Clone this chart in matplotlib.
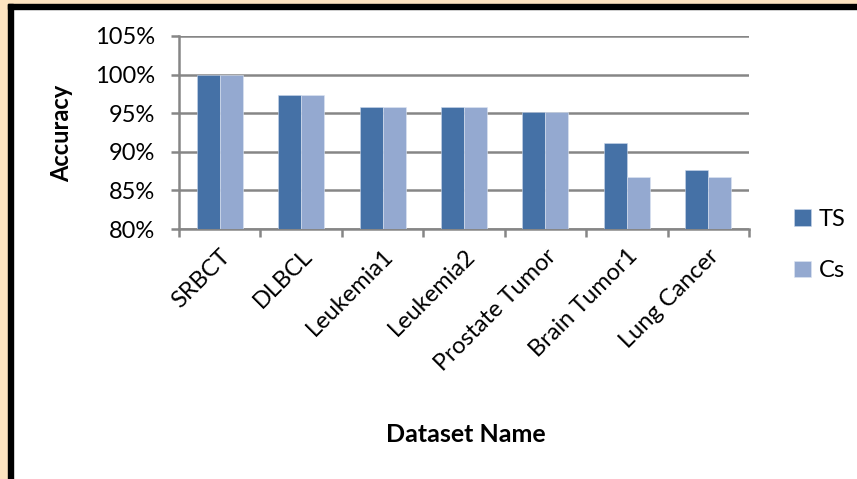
import numpy as np
import matplotlib.pyplot as plt
from matplotlib.patches import Rectangle

# Classification accuracy per dataset
datasets = ['SRBCT', 'DLBCL', 'Leukemia1', 'Leukemia2', 'Prostate Tumor', 'Brain Tumor1', 'Lung Cancer']
ts_acc = [100.0, 97.4, 95.8, 95.8, 95.1, 91.1, 87.7]
cs_acc = [100.0, 97.4, 95.8, 95.8, 95.1, 86.7, 86.7]

plt.rcParams['font.family'] = ['Lato', 'DejaVu Sans']

fig = plt.figure(figsize=(8.57, 4.79), dpi=100)
ax = fig.add_axes([179 / 857, 1 - 229 / 479, 570 / 857, 193 / 479])

x = np.arange(len(datasets))
w = 0.283
ax.bar(x - w / 2, ts_acc, w, color='#4571A6', edgecolor='#c9d6ea', linewidth=0.4, label='TS', zorder=3)
ax.bar(x + w / 2, cs_acc, w, color='#94A9D0', edgecolor='#dde5f2', linewidth=0.4, label='Cs', zorder=3)

ax.set_ylim(80, 105)
ax.set_xlim(-0.5, len(datasets) - 0.5)
ax.set_yticks(np.arange(80, 106, 5))
ax.set_yticklabels([f'{v}%' for v in range(80, 106, 5)])
ax.yaxis.grid(True, color='#868686', linewidth=1.8, zorder=0)

# category labels at centres, tick marks between groups
ax.set_xticks(x)
ax.set_xticklabels(datasets, rotation=45, ha='right', rotation_mode='anchor')
ax.set_xticks(np.arange(-0.5, len(datasets), 1), minor=True)
ax.tick_params(axis='x', which='major', length=0, pad=12, labelsize=17)
ax.tick_params(axis='x', which='minor', length=6, width=1.8, color='#868686')
ax.tick_params(axis='y', length=6, width=1.8, color='#868686', labelsize=17, pad=11)

for s in ['top', 'right']:
    ax.spines[s].set_visible(False)
for s in ['left', 'bottom']:
    ax.spines[s].set_color('#868686')
    ax.spines[s].set_linewidth(1.8)

fig.text(62 / 857, 1 - 133 / 479, 'Accuracy', fontsize=17, fontweight='bold',
         rotation=90, ha='center', va='center')
fig.text(466 / 857, 1 - 435 / 479, 'Dataset Name', fontsize=18, fontweight='bold',
         ha='center', va='center')

fig.legend(loc='center left', bbox_to_anchor=(773 / 857, 1 - 245 / 479), frameon=False,
           fontsize=17, handlelength=0.7, handleheight=0.7, labelspacing=1.3,
           handletextpad=0.35)

# page frame: soft orange glow with a black rule on the left and top
fig.patches.append(Rectangle((0, 0), 9 / 857, 1, transform=fig.transFigure,
                             color='#fde3c0', zorder=0))
fig.patches.append(Rectangle((0, 1 - 5 / 479), 1, 5 / 479, transform=fig.transFigure,
                             color='#fde3c0', zorder=0))
fig.patches.append(Rectangle((8 / 857, 0), 5 / 857, 1 - 4 / 479, transform=fig.transFigure,
                             color='black', zorder=1))
fig.patches.append(Rectangle((8 / 857, 1 - 9 / 479), 1, 5 / 479, transform=fig.transFigure,
                             color='black', zorder=1))

fig.savefig('out.png', dpi=100)
